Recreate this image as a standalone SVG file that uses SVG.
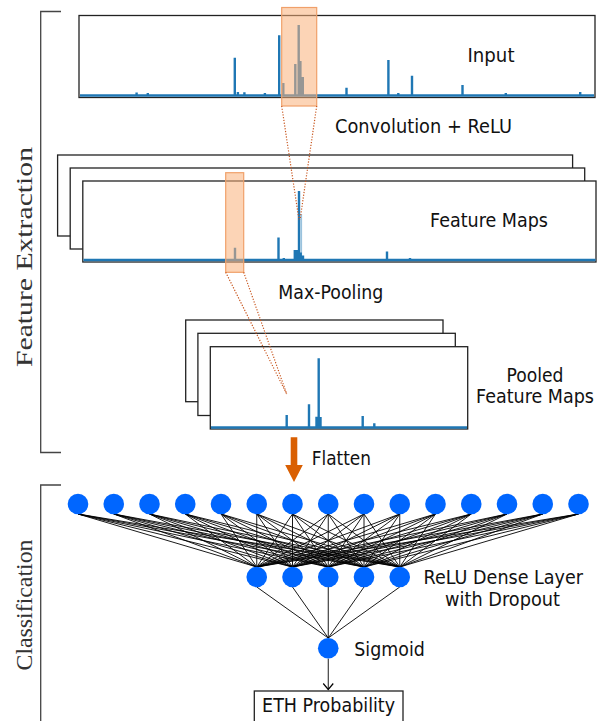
<svg xmlns="http://www.w3.org/2000/svg" width="605" height="721" viewBox="0 0 605 721">
<style>
.box{fill:#fff;stroke:#222;stroke-width:1.3}
.sp{stroke:#1f77b4;stroke-width:2.4;fill:none}
.base{stroke:#1f77b4;stroke-width:2.6}
.hl{fill:rgb(250,176,122);fill-opacity:0.55;stroke:#f0a06a;stroke-width:1.2}
.dot{stroke:#c8561e;stroke-width:1.2;stroke-dasharray:1.2 1.6;fill:none}
.lbl{font-family:"DejaVu Sans",sans-serif;font-size:19.5px;fill:#111}
.ser{font-family:"Liberation Serif",serif;font-size:22.5px;fill:#333}
.node{fill:#0066ff}
.edge{stroke:#000;stroke-width:0.9;fill:none}
.brk{stroke:#444;stroke-width:1.3;fill:none}
</style>
<defs>
<marker id="vhead" viewBox="-7 -6 8 12" refX="0" refY="0" markerWidth="8" markerHeight="12" markerUnits="userSpaceOnUse" orient="auto">
<path d="M-6,-5 L0,0 L-6,5" fill="none" stroke="#000" stroke-width="1.2"/>
</marker>
</defs>

<g id="brackets">
<path class="brk" d="M61 11.5H40.7V452.5H61"/>
<path class="brk" d="M61 485H40.7V721"/>
<text class="ser" transform="translate(32,257) rotate(-90)" text-anchor="middle" textLength="220" lengthAdjust="spacingAndGlyphs">Feature Extraction</text>
<text class="ser" transform="translate(32,605) rotate(-90)" text-anchor="middle" textLength="131" lengthAdjust="spacingAndGlyphs">Classification</text>
</g>

<g id="input">
<rect class="box" x="79" y="15.5" width="516" height="82"/>
<line class="base" x1="80" y1="95.5" x2="594" y2="95.5"/>
<path class="sp" d="M136.6 95.5V92.5M147.8 95.5V93M234.8 95.5V57.7M237.9 95.5V92M244.4 95.5V92.3M264.9 95.5V93M279.2 95.5V35.3M283.3 95.5V83M295.3 95.5V64M298.7 95.5V25M300.4 95.5V61M302.8 95.5V77M346.5 95.5V87.7M388.4 95.5V60M398.3 95.5V93M412 95.5V75.7M462.5 95.5V85M505.8 95.5V93M580.2 95.5V92"/>
<rect class="hl" x="281.7" y="7.5" width="35" height="98.5"/>
<text class="lbl" x="467.5" y="61.5" textLength="47" lengthAdjust="spacingAndGlyphs">Input</text>
</g>

<g id="conv-label">
<text class="lbl" x="335" y="133.3" textLength="177" lengthAdjust="spacingAndGlyphs">Convolution + ReLU</text>
</g>

<g id="feature-maps">
<rect class="box" x="57.6" y="155" width="515" height="81"/>
<rect class="box" x="70.2" y="168" width="514.5" height="81"/>
<rect class="box" x="82.8" y="181" width="513.2" height="81"/>
<line class="base" x1="83.5" y1="260" x2="595.5" y2="260"/>
<path class="sp" d="M235 260V247.7M278.5 260V237.5M283.8 260V258M294.8 260V250M297 260V250M299 260V191M300.7 260V252.6M303 260V255.5M387 260V251.6M410 260V258"/>
<path d="M301.3 260V214" stroke="#1f77b4" stroke-opacity="0.45" stroke-width="1.6"/>
<rect class="hl" x="225.7" y="172.7" width="18" height="99.6"/>
<text class="lbl" x="430" y="227.3" textLength="118" lengthAdjust="spacingAndGlyphs">Feature Maps</text>
</g>

<g id="pool-label">
<text class="lbl" x="278.3" y="299" textLength="105" lengthAdjust="spacingAndGlyphs">Max-Pooling</text>
</g>

<g id="pooled-maps">
<rect class="box" x="185.7" y="320" width="257.3" height="81.7"/>
<rect class="box" x="197.9" y="333.3" width="257.4" height="82.2"/>
<rect class="box" x="210.3" y="346.7" width="257.4" height="82.3"/>
<line class="base" x1="211" y1="427.5" x2="467" y2="427.5"/>
<path class="sp" d="M286.7 427.5V415M309 427.5V404.3M318.7 427.5V358.3M316.5 427.5V416.7M320.5 427.5V417M362.7 427.5V416M374.3 427.5V423.3"/>
<text class="lbl" x="535" y="381.7" text-anchor="middle" textLength="57" lengthAdjust="spacingAndGlyphs">Pooled</text>
<text class="lbl" x="535" y="402.7" text-anchor="middle" textLength="118" lengthAdjust="spacingAndGlyphs">Feature Maps</text>
</g>

<g id="receptive-lines">
<path class="dot" d="M281.7 106L299 220M316.7 106L300 220"/>
<path class="dot" d="M225.7 272.3L286.7 394M243.7 272.3L286.7 394"/>
</g>

<g id="flatten">
<path d="M290.7 437.3H297.3V465H302.8L294 482L285.2 465H290.7Z" fill="#d95f02"/>
<text class="lbl" x="311.7" y="465" textLength="59.3" lengthAdjust="spacingAndGlyphs">Flatten</text>
</g>

<g id="connectors">
<path class="edge" d="M78 514L256.75 567M78 514L292.5 567M78 514L328.25 567M78 514L364 567M78 514L399.75 567M113.75 514L256.75 567M113.75 514L292.5 567M113.75 514L328.25 567M113.75 514L364 567M113.75 514L399.75 567M149.5 514L256.75 567M149.5 514L292.5 567M149.5 514L328.25 567M149.5 514L364 567M149.5 514L399.75 567M185.25 514L256.75 567M185.25 514L292.5 567M185.25 514L328.25 567M185.25 514L364 567M185.25 514L399.75 567M221 514L256.75 567M221 514L292.5 567M221 514L328.25 567M221 514L364 567M221 514L399.75 567M256.75 514L256.75 567M256.75 514L292.5 567M256.75 514L328.25 567M256.75 514L364 567M256.75 514L399.75 567M292.5 514L256.75 567M292.5 514L292.5 567M292.5 514L328.25 567M292.5 514L364 567M292.5 514L399.75 567M328.25 514L256.75 567M328.25 514L292.5 567M328.25 514L328.25 567M328.25 514L364 567M328.25 514L399.75 567M364 514L256.75 567M364 514L292.5 567M364 514L328.25 567M364 514L364 567M364 514L399.75 567M399.75 514L256.75 567M399.75 514L292.5 567M399.75 514L328.25 567M399.75 514L364 567M399.75 514L399.75 567M435.5 514L256.75 567M435.5 514L292.5 567M435.5 514L328.25 567M435.5 514L364 567M435.5 514L399.75 567M471.25 514L256.75 567M471.25 514L292.5 567M471.25 514L328.25 567M471.25 514L364 567M471.25 514L399.75 567M507 514L256.75 567M507 514L292.5 567M507 514L328.25 567M507 514L364 567M507 514L399.75 567M542.75 514L256.75 567M542.75 514L292.5 567M542.75 514L328.25 567M542.75 514L364 567M542.75 514L399.75 567M578.5 514L256.75 567M578.5 514L292.5 567M578.5 514L328.25 567M578.5 514L364 567M578.5 514L399.75 567"/>
<path class="edge" d="M256.75 587L328.25 638M292.5 587L328.25 638M328.25 587L328.25 638M364 587L328.25 638M399.75 587L328.25 638"/>
<line class="edge" x1="328.25" y1="658.6" x2="328.25" y2="689.5" stroke-width="1.1" marker-end="url(#vhead)"/>
</g>

<g id="flattened-layer">
<circle class="node" cx="78" cy="504" r="10.3"/>
<circle class="node" cx="113.75" cy="504" r="10.3"/>
<circle class="node" cx="149.5" cy="504" r="10.3"/>
<circle class="node" cx="185.25" cy="504" r="10.3"/>
<circle class="node" cx="221" cy="504" r="10.3"/>
<circle class="node" cx="256.75" cy="504" r="10.3"/>
<circle class="node" cx="292.5" cy="504" r="10.3"/>
<circle class="node" cx="328.25" cy="504" r="10.3"/>
<circle class="node" cx="364" cy="504" r="10.3"/>
<circle class="node" cx="399.75" cy="504" r="10.3"/>
<circle class="node" cx="435.5" cy="504" r="10.3"/>
<circle class="node" cx="471.25" cy="504" r="10.3"/>
<circle class="node" cx="507" cy="504" r="10.3"/>
<circle class="node" cx="542.75" cy="504" r="10.3"/>
<circle class="node" cx="578.5" cy="504" r="10.3"/>
</g>

<g id="dense-layer">
<circle class="node" cx="256.75" cy="577" r="10.3"/>
<circle class="node" cx="292.5" cy="577" r="10.3"/>
<circle class="node" cx="328.25" cy="577" r="10.3"/>
<circle class="node" cx="364" cy="577" r="10.3"/>
<circle class="node" cx="399.75" cy="577" r="10.3"/>
<text class="lbl" x="423.5" y="584" textLength="159.5" lengthAdjust="spacingAndGlyphs">ReLU Dense Layer</text>
<text class="lbl" x="502.5" y="606" text-anchor="middle" textLength="115" lengthAdjust="spacingAndGlyphs">with Dropout</text>
</g>

<g id="sigmoid">
<circle class="node" cx="328.25" cy="648.3" r="10.3"/>
<text class="lbl" x="354.3" y="656" textLength="70.5" lengthAdjust="spacingAndGlyphs">Sigmoid</text>
</g>

<g id="output">
<rect class="box" x="254.3" y="691" width="148.7" height="31"/>
<text class="lbl" x="328.6" y="712" text-anchor="middle" textLength="133" lengthAdjust="spacingAndGlyphs">ETH Probability</text>
</g>
</svg>
